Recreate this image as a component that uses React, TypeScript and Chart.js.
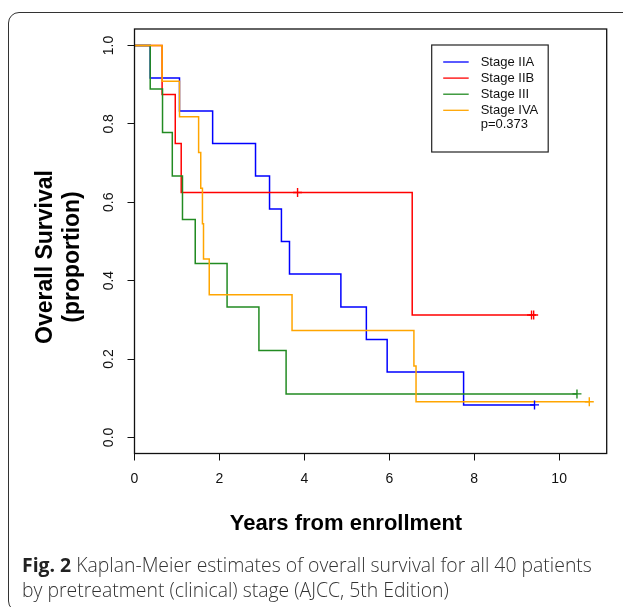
import React, { useEffect, useRef } from "react";
import { Chart, registerables } from "chart.js";

Chart.register(...registerables);

// ---- Data ----
const seriesLabels = ["Stage IIA", "Stage IIB", "Stage III", "Stage IVA"];
const seriesColors = ["#0000FF", "#FF0000", "#228B22", "#FFA500"];

const timesIIA = [0, 0.37, 1.06, 1.84, 2.85, 3.18, 3.46, 3.65, 4.86, 5.46, 5.95, 7.75, 9.42];
const survIIA = [1, 0.917, 0.833, 0.75, 0.667, 0.583, 0.5, 0.417, 0.333, 0.25, 0.167, 0.083, 0.083];
const censorTimesIIA = [9.42];
const censorSurvIIA = [0.083];

const timesIIB = [0, 0.65, 0.96, 1.1, 6.54, 9.4];
const survIIB = [1, 0.875, 0.75, 0.625, 0.3125, 0.3125];
const censorTimesIIB = [3.84, 9.35, 9.4];
const censorSurvIIB = [0.625, 0.3125, 0.3125];

const timesIII = [0, 0.37, 0.66, 0.89, 1.13, 1.43, 2.18, 2.93, 3.57, 10.42];
const survIII = [1, 0.889, 0.778, 0.667, 0.556, 0.444, 0.333, 0.222, 0.111, 0.111];
const censorTimesIII = [10.42];
const censorSurvIII = [0.111];

const timesIVA = [0, 0.65, 1.06, 1.51, 1.56, 1.6, 1.625, 1.76, 3.71, 6.58, 6.63, 10.71];
const survIVA = [1, 0.909, 0.818, 0.727, 0.636, 0.545, 0.455, 0.364, 0.273, 0.182, 0.091, 0.091];
const censorTimesIVA = [10.71];
const censorSurvIVA = [0.091];

const xTickValues = [0, 2, 4, 6, 8, 10];
const yTickValues = [0, 0.2, 0.4, 0.6, 0.8, 1.0];
const xAxisTitle = "Years from enrollment";
const yAxisTitle = ["Overall Survival", "(proportion)"];
const pValueText = "p=0.373";

const allTimes = [timesIIA, timesIIB, timesIII, timesIVA];
const allSurv = [survIIA, survIIB, survIII, survIVA];
const allCensorT = [censorTimesIIA, censorTimesIIB, censorTimesIII, censorTimesIVA];
const allCensorS = [censorSurvIIA, censorSurvIIB, censorSurvIII, censorSurvIVA];

const SANS = '"Liberation Sans", Arial, Helvetica, sans-serif';

const boxPlugin = {
  id: "plotBox",
  afterDatasetsDraw(chart: any) {
    const { ctx, chartArea } = chart;
    ctx.save();
    ctx.strokeStyle = "#111";
    ctx.lineWidth = 1.3;
    ctx.strokeRect(chartArea.left, chartArea.top, chartArea.right - chartArea.left, chartArea.bottom - chartArea.top);
    ctx.restore();
  },
};

const legendPlugin = {
  id: "kmLegend",
  afterDatasetsDraw(chart: any) {
    const { ctx, chartArea } = chart;
    const left = chartArea.right - 175;
    const top = chartArea.top + 16;
    const w = 116.5;
    const h = 107;
    ctx.save();
    ctx.fillStyle = "#fff";
    ctx.fillRect(left, top, w, h);
    ctx.strokeStyle = "#222";
    ctx.lineWidth = 1.2;
    ctx.strokeRect(left, top, w, h);
    ctx.font = `13px ${SANS}`;
    ctx.textBaseline = "middle";
    ctx.textAlign = "left";
    const rowY0 = top + 17;
    const rowH = 16.1;
    seriesLabels.forEach((label, i) => {
      const y = rowY0 + i * rowH;
      ctx.strokeStyle = seriesColors[i];
      ctx.lineWidth = 1.3;
      ctx.beginPath();
      ctx.moveTo(left + 11.5, y);
      ctx.lineTo(left + 37, y);
      ctx.stroke();
      ctx.fillStyle = "#111";
      ctx.fillText(label, left + 49, y);
    });
    ctx.fillText(pValueText, left + 49, rowY0 + 4 * rowH - 2);
    ctx.restore();
  },
};

const titlesPlugin = {
  id: "axisTitles",
  afterDraw(chart: any) {
    const { ctx } = chart;
    ctx.save();
    ctx.fillStyle = "#000";
    ctx.textAlign = "center";
    ctx.textBaseline = "middle";
    ctx.font = `bold 22px ${SANS}`;
    ctx.fillText(xAxisTitle, 346, 524);
    ctx.font = `bold 23px ${SANS}`;
    const xs = [46, 73];
    yAxisTitle.forEach((line, i) => {
      ctx.save();
      ctx.translate(xs[i], 257);
      ctx.rotate(-Math.PI / 2);
      ctx.fillText(line, 0, 0);
      ctx.restore();
    });
    ctx.restore();
  },
};

export default function App() {
  const canvasRef = useRef<HTMLCanvasElement | null>(null);

  useEffect(() => {
    if (!canvasRef.current) return;
    const curveSets = seriesLabels.map((label, i) => ({
      label,
      data: allTimes[i].map((t, j) => ({ x: t, y: allSurv[i][j] })),
      showLine: true,
      stepped: true,
      borderColor: seriesColors[i],
      backgroundColor: seriesColors[i],
      borderWidth: 1.5,
      pointRadius: 0,
      fill: false,
      order: 10 - i,
    }));
    const censorSets = seriesLabels.map((label, i) => ({
      label: label + " censored",
      data: allCensorT[i].map((t, j) => ({ x: t, y: allCensorS[i][j] })),
      showLine: false,
      pointStyle: "cross",
      pointRadius: 4.5,
      pointBorderWidth: 1.4,
      borderColor: seriesColors[i],
      backgroundColor: seriesColors[i],
      order: 1,
    }));

    const tickFont = { family: SANS, size: 14 };
    const chart = new Chart(canvasRef.current, {
      type: "scatter",
      data: { datasets: [...curveSets, ...censorSets] as any },
      plugins: [boxPlugin, legendPlugin, titlesPlugin],
      options: {
        animation: false,
        responsive: false,
        devicePixelRatio: 1,
        layout: { autoPadding: false, padding: { left: 0, top: 29, right: 16.3, bottom: 93.5 } } as any,
        plugins: { legend: { display: false }, tooltip: { enabled: false }, title: { display: false } },
        scales: {
          x: {
            type: "linear",
            position: "bottom",
            min: 0,
            max: 11.12,
            afterFit: (s: any) => { s.height = 60; },
            afterBuildTicks: (s: any) => { s.ticks = xTickValues.map((v) => ({ value: v })); },
            ticks: { font: tickFont, color: "#111", padding: 10, maxRotation: 0, callback: (v: any) => String(v) },
            grid: { display: true, drawOnChartArea: false, drawTicks: true, tickLength: 7, color: "#111", lineWidth: 1 },
            border: { display: false },
          },
          y: {
            type: "linear",
            min: -0.041,
            max: 1.042,
            afterFit: (s: any) => { s.width = 134.5; },
            afterBuildTicks: (s: any) => { s.ticks = yTickValues.map((v) => ({ value: v })); },
            ticks: {
              font: tickFont,
              color: "#111",
              padding: 8.3,
              minRotation: 90,
              maxRotation: 90,
              crossAlign: "center",
              callback: (v: any) => Number(v).toFixed(1),
            },
            grid: { display: true, drawOnChartArea: false, drawTicks: true, tickLength: 7, color: "#111", lineWidth: 1 },
            border: { display: false },
          },
        },
      } as any,
    });
    return () => chart.destroy();
  }, []);

  return (
    <div style={{ position: "absolute", left: 0, top: 0, width: 623, height: 607, overflow: "hidden", background: "#fff" }}>
      <div
        style={{
          position: "absolute",
          left: 8,
          top: 12,
          width: 640,
          height: 600,
          border: "1.4px solid #333",
          borderRadius: 11,
          boxSizing: "border-box",
        }}
      />
      <canvas ref={canvasRef} width={623} height={607} style={{ position: "absolute", left: 0, top: 0, width: 623, height: 607 }} />
      <div
        style={{
          position: "absolute",
          left: 22,
          top: 552,
          width: 600,
          fontFamily: '"Open Sans", sans-serif',
          fontWeight: 300,
          fontSize: 19.4,
          lineHeight: "25px",
          color: "#333",
          whiteSpace: "nowrap",
        }}
      >
        <span style={{ fontWeight: 700, color: "#222" }}>Fig. 2</span> Kaplan-Meier estimates of overall survival for all 40 patients
        <br />
        by pretreatment (clinical) stage (AJCC, 5th Edition)
      </div>
    </div>
  );
}
